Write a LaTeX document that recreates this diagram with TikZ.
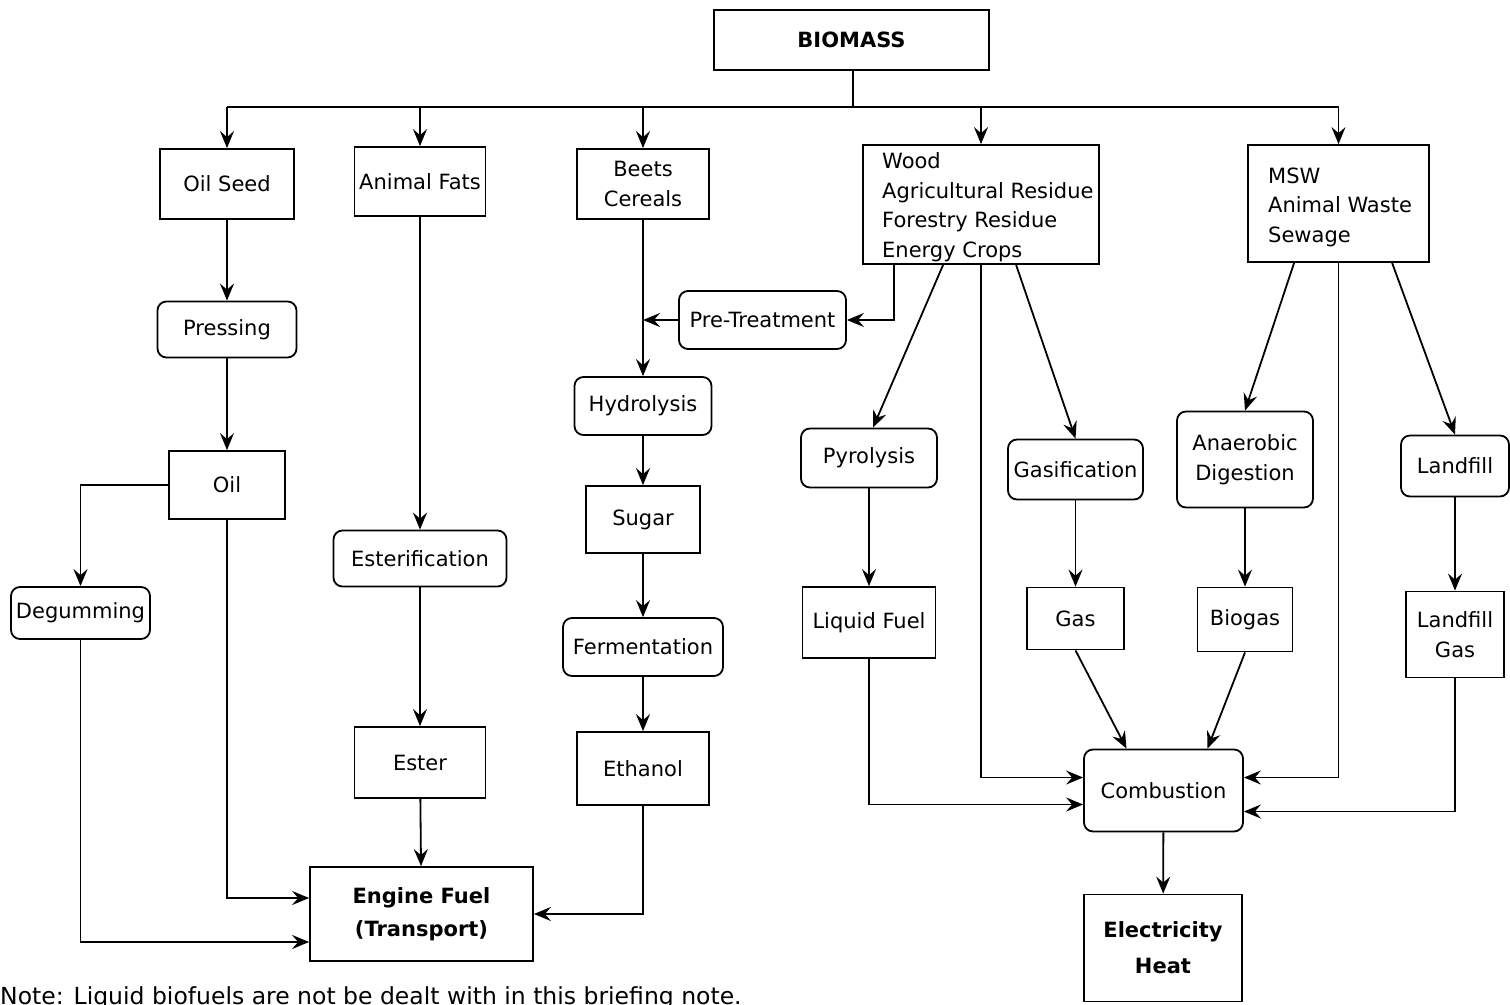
\documentclass[tikz,border=0pt]{standalone}
\usepackage{fontspec}
\setmainfont{DejaVu Sans}
\usetikzlibrary{arrows.meta}
\begin{document}
\begin{tikzpicture}[x=1pt,y=-1pt,
 every node/.style={font=\fontsize{21}{29.5}\selectfont},
 box/.style={draw, line width=1.8pt, rectangle, inner sep=0pt, align=center},
 rbox/.style={box, rounded corners=9pt},
 bold/.style={font=\fontsize{21}{33}\selectfont\bfseries},
 conn/.style={line width=1.8pt},
 arr/.style={conn, -{Stealth[length=17pt,width=14pt,inset=6pt]}},
 ]
\useasboundingbox (0,0) rectangle (1510,1004);
\clip (0,0) rectangle (1510,1004);
% nodes
\node[box, bold, minimum width=275, minimum height=60] (biomass) at (851.5,40) {BIOMASS};
\node[box, minimum width=134, minimum height=70] (oilseed) at (227,184) {Oil Seed};
\node[box, minimum width=131, minimum height=69] (afats) at (420,181.5) {Animal Fats};
\node[box, minimum width=132, minimum height=70] (beets) at (643,184) {Beets\\Cereals};
\node[box, minimum width=236, minimum height=119] (wood) at (981,204.5) {};
\node[anchor=west, align=left, inner sep=0pt] (woodtxt) at (882,207) {Wood\\Agricultural Residue\\Forestry Residue\\Energy Crops};
\node[box, minimum width=181, minimum height=117] (msw) at (1338.5,203.5) {};
\node[anchor=west, align=left, inner sep=0pt] (mswtxt) at (1268,207) {MSW\\Animal Waste\\Sewage};
\node[rbox, minimum width=139, minimum height=56] (press) at (227,329.5) {Pressing};
\node[box, minimum width=116, minimum height=68] (oil) at (227,485) {Oil};
\node[rbox, minimum width=139, minimum height=52] (degum) at (80.5,613) {Degumming};
\node[rbox, minimum width=173, minimum height=56] (ester) at (420,558.5) {Esterification};
\node[box, minimum width=131, minimum height=71] (esterb) at (420,762.5) {Ester};
\node[box, bold, minimum width=223, minimum height=94] (engine) at (421.5,914) {Engine Fuel\\(Transport)};
\node[rbox, minimum width=167, minimum height=58] (pre) at (762.5,320) {Pre-Treatment};
\node[rbox, minimum width=137, minimum height=58] (hydro) at (643,406) {Hydrolysis};
\node[box, minimum width=114, minimum height=67] (sugar) at (643,519.5) {Sugar};
\node[rbox, minimum width=160, minimum height=58] (ferm) at (643,647) {Fermentation};
\node[box, minimum width=132, minimum height=73] (eth) at (643,768.5) {Ethanol};
\node[rbox, minimum width=136, minimum height=59] (pyro) at (869,458) {Pyrolysis};
\node[rbox, minimum width=135, minimum height=60] (gasif) at (1075.5,469.5) {Gasification};
\node[rbox, minimum width=136, minimum height=96] (anaer) at (1245,459.5) {Anaerobic\\Digestion};
\node[rbox, minimum width=108, minimum height=61] (landfill) at (1455,466) {Landfill};
\node[box, minimum width=133, minimum height=71] (liq) at (869,622.5) {Liquid Fuel};
\node[box, minimum width=97, minimum height=62] (gas) at (1075.5,618.5) {Gas};
\node[box, minimum width=95, minimum height=64] (biogas) at (1245,619.5) {Biogas};
\node[box, minimum width=98, minimum height=86] (lfg) at (1455,634.5) {Landfill\\Gas};
\node[rbox, minimum width=159, minimum height=82] (comb) at (1163.5,790.5) {Combustion};
\node[box, font=\fontsize{21}{36}\selectfont\bfseries, minimum width=158, minimum height=107] (elec) at (1163,948) {Electricity\\Heat};
\node[anchor=base west, inner sep=0pt, font=\fontsize{23.5}{28}\selectfont] (note) at (0,1004) {Note: Liquid biofuels are not be dealt with in this briefing note.};
% bus
\coordinate (bus) at (853,107);
\draw[line width=2.6pt] (biomass.south -| bus) -- (bus);
\draw[conn] (bus -| oilseed) -- (bus -| msw);
\foreach \n in {oilseed,afats,beets,wood,msw} \draw[arr] (bus -| \n) -- (\n.north);
% left column
\draw[arr] (oilseed) -- (press);
\draw[arr] (press) -- (oil);
\draw[arr] (oil.west) -| (degum.north);
\draw[arr] (oil.south) |- ([yshift=16pt]engine.west);
\draw[arr] (degum.south) |- ([yshift=-28pt]engine.west);
\draw[arr] (afats) -- (ester);
\draw[arr] (ester) -- (esterb);
\draw[arr] (esterb) -- (engine);
% beets column
\draw[arr] (beets) -- (hydro);
\draw[arr] ([xshift=32pt]wood.south west) |- (pre.east);
\draw[arr] (pre.west) -- (pre.west -| beets.south);
\draw[arr] (hydro) -- (sugar);
\draw[arr] (sugar) -- (ferm);
\draw[arr] (ferm) -- (eth);
\draw[arr] (eth.south) |- (engine.east);
% wood
\draw[arr] ([xshift=81pt]wood.south west) -- ([xshift=4pt]pyro.north);
\draw[arr] ([xshift=154pt]wood.south west) -- (gasif.north);
\draw[arr] ([xshift=119pt]wood.south west) |- ([yshift=13pt]comb.west);
\draw[arr] (pyro) -- (liq);
\draw[arr] (liq.south) |- ([yshift=-14pt]comb.west);
\draw[arr] (gasif) -- (gas);
\draw[arr] (gas.south) -- ([xshift=-37pt]comb.north);
% msw
\draw[arr] ([xshift=47pt]msw.south west) -- (anaer.north);
\draw[arr] ([xshift=145pt]msw.south west) -- (landfill.north);
\draw[arr] (msw.south) |- ([yshift=13pt]comb.east);
\draw[arr] (anaer) -- (biogas);
\draw[arr] (biogas.south) -- ([xshift=44pt]comb.north);
\draw[arr] (landfill) -- (lfg);
\draw[arr] (lfg.south) |- ([yshift=-21pt]comb.east);
\draw[arr] (comb) -- (elec);
\end{tikzpicture}
\end{document}
